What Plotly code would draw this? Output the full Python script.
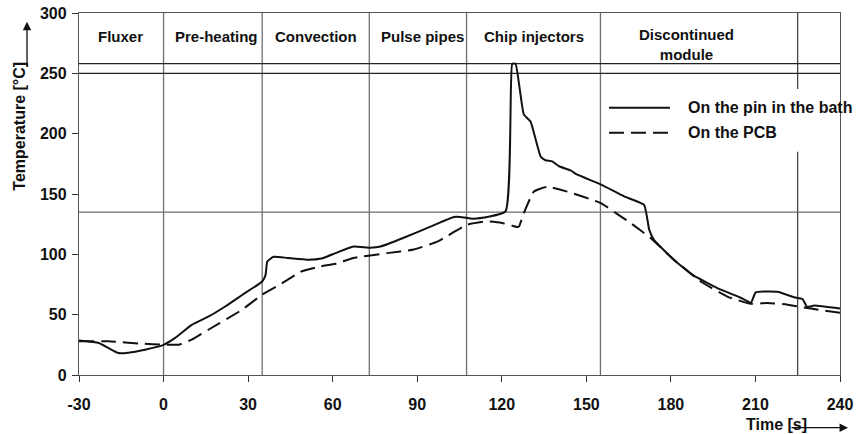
import plotly.graph_objects as go

# ── Data ─────────────────────────────────────────────────────────────────────
time_pin = [-30, -23, -19.6, -16, -12.5, -6.6, 0, 4, 10, 16, 22, 28, 35, 36.2, 36.8, 39,
            44, 51.5, 56, 61, 67.4, 73.4, 77, 85, 94.7, 103, 105.3, 110, 121.3, 123.7,
            124.9, 127.8, 130.2, 133.8, 135.5, 137.9, 140.3, 144.4, 146.8, 155.1, 163.4,
            170.5, 172.3, 174, 181, 188, 196.5, 204.8, 208.4, 210.1, 217.8, 223.7, 226.7,
            228.3, 230.9, 240]
temp_pin = [28.5, 26.5, 22.4, 18.2, 18.5, 21, 25, 30.5, 41.5, 48.5, 57, 66.5, 77.5, 83, 94,
            98, 97, 95.5, 96.5, 101, 106.5, 105.5, 106.5, 113.5, 123, 131, 131, 129.5,
            135.5, 258, 258, 216, 210, 181, 178, 177, 173, 169.5, 166, 158, 148, 141,
            120.5, 112, 95.5, 82.5, 72, 64, 60, 68.5, 69, 64.5, 63, 56.5, 57.5, 55]

time_pcb = [-30, -19.6, -7.7, 0, 5.3, 10, 15.9, 27.8, 34.9, 42, 49.1, 55.6, 61, 67.4, 79.3,
            88.8, 97.1, 107.7, 114.8, 120.1, 125.5, 126.1, 127.8, 131.4, 136.1, 143.2,
            155.1, 162.2, 165.7, 172.8, 181.1, 190.6, 200, 208.4, 214.3, 221.4, 228.5, 240]
temp_pcb = [28, 27.9, 26, 25.2, 25.1, 29.3, 37.5, 54, 66.5, 76, 86, 90, 92.2, 97, 101,
            104, 110.5, 124.5, 127.3, 126, 122.6, 123, 134, 152, 156, 152, 142.5, 131.5,
            126, 113.5, 95.5, 77.5, 65, 59, 59.7, 58.3, 55.5, 51.5]

zone_bounds = [0, 35, 73, 107.5, 155]
zone_names = ["Fluxer", "Pre-heating", "Convection", "Pulse pipes", "Chip injectors",
              "Discontinued<br>module"]
zone_label_x = [-15.2, 18.7, 54.2, 91.7, 131.6, 185.5]
level_lines = [135, 250, 258]

x_ticks = list(range(-30, 241, 30))
x_ticktext = [str(v) for v in x_ticks]  # plain hyphen for -30
y_ticks = list(range(0, 301, 50))

FONT = "Liberation Sans, Arial, sans-serif"
INK = "#111111"
GRAY = "#6e6e6e"

fig = go.Figure()
fig.add_trace(go.Scatter(x=time_pin, y=temp_pin, mode="lines",
                         line=dict(color=INK, width=2, shape="spline", smoothing=0.4),
                         name="On the pin in the bath", showlegend=False))
fig.add_trace(go.Scatter(x=time_pcb, y=temp_pcb, mode="lines",
                         line=dict(color=INK, width=2, dash="15px,7px", shape="spline",
                                   smoothing=0.4),
                         name="On the PCB", showlegend=False))

shapes = []
for xb in zone_bounds:
    shapes.append(dict(type="line", xref="x", yref="y", x0=xb, x1=xb, y0=0, y1=300,
                       line=dict(color=GRAY, width=1.3), layer="below"))
# thin black divider at 225 s, interrupted by the legend box
for y0, y1 in [(0, 185), (237, 300)]:
    shapes.append(dict(type="line", xref="x", yref="y", x0=225, x1=225, y0=y0, y1=y1,
                       line=dict(color=INK, width=1), layer="below"))
for lv in level_lines:
    shapes.append(dict(type="line", xref="x", yref="y", x0=-30, x1=240, y0=lv, y1=lv,
                       line=dict(color=GRAY if lv == 135 else "#222222", width=1.2),
                       layer="below"))

# hand-drawn legend
shapes.append(dict(type="line", xref="paper", yref="paper", x0=0.6965, x1=0.7766,
                   y0=0.7384, y1=0.7384, line=dict(color=INK, width=2)))
shapes.append(dict(type="line", xref="paper", yref="paper", x0=0.6965, x1=0.7766,
                   y0=0.6693, y1=0.6693, line=dict(color=INK, width=2, dash="15px,7px")))

annotations = []
for name, xl in zip(zone_names, zone_label_x):
    multi = "<br>" in name
    annotations.append(dict(x=xl, y=273.6 if multi else 280.4, xref="x", yref="y",
                            text=name, showarrow=False,
                            font=dict(family=FONT, size=15, color=INK, weight="bold")))
annotations += [
    dict(x=0.7977, y=0.7384, xref="paper", yref="paper", xanchor="left", yanchor="middle",
         text="On the pin in the bath", showarrow=False,
         font=dict(family=FONT, size=16, color=INK, weight="bold")),
    dict(x=0.7977, y=0.6693, xref="paper", yref="paper", xanchor="left", yanchor="middle",
         text="On the PCB", showarrow=False,
         font=dict(family=FONT, size=16, color=INK, weight="bold")),
    # axis titles with arrows
    dict(x=-0.0775, y=0.686, xref="paper", yref="paper", xanchor="center", yanchor="middle",
         text="Temperature [°C]", textangle=-90, showarrow=False,
         font=dict(family=FONT, size=16, color=INK, weight="bold")),
    dict(x=-0.0683, y=0.976, xref="paper", yref="paper", text="", showarrow=True,
         ax=0, ay=46, arrowhead=2, arrowsize=1.3, arrowwidth=1.3, arrowcolor=INK),
    dict(x=0.9166, y=-0.1380, xref="paper", yref="paper", xanchor="center", yanchor="middle",
         text="Time [s]", showarrow=False,
         font=dict(family=FONT, size=16, color=INK, weight="bold")),
    dict(x=1.0105, y=-0.1456, xref="paper", yref="paper", text="", showarrow=True,
         ax=-58, ay=0, arrowhead=2, arrowsize=1.3, arrowwidth=1.3, arrowcolor=INK),
]

axis_common = dict(showgrid=False, zeroline=False, showline=True, mirror=True,
                   linecolor="#555555", linewidth=1.3, ticks="outside", ticklen=6,
                   tickwidth=1.2, tickcolor="#333333", automargin=False,
                   tickfont=dict(family=FONT, size=16, color=INK, weight="bold"))

fig.update_layout(
    width=862, height=434, autosize=False,
    margin=dict(l=79, r=22, t=13, b=59, autoexpand=False),
    plot_bgcolor="white", paper_bgcolor="white",
    xaxis=dict(range=[-30, 240], tickvals=x_ticks, ticktext=x_ticktext,
               ticklabelstandoff=9, **axis_common),
    yaxis=dict(range=[0, 300], tickvals=y_ticks, ticklabelstandoff=2, **axis_common),
    shapes=shapes, annotations=annotations, showlegend=False,
)

fig.write_html("out.html", config={"displayModeBar": False},
               post_script="document.body.style.margin='0px';")
